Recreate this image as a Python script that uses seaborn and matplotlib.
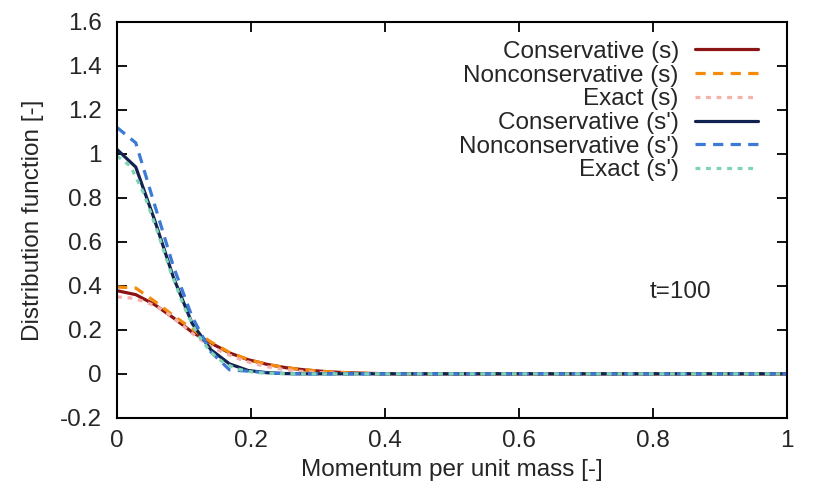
import matplotlib
matplotlib.use("Agg")
import matplotlib.pyplot as plt
import seaborn as sns

# numerical grid (solver output)
x_num = [0, 0.028, 0.056, 0.084, 0.112, 0.14, 0.168, 0.196, 0.224, 0.252, 0.28,
         0.308, 0.336, 0.364, 0.392, 0.42, 0.5, 0.6, 0.7, 0.8, 0.9, 1.0]
cons_s = [0.378, 0.36, 0.315, 0.255, 0.19, 0.14, 0.095, 0.064, 0.043, 0.028, 0.018,
          0.011, 0.006, 0.003, 0.001, 0, 0, 0, 0, 0, 0, 0]
noncons_s = [0.395, 0.39, 0.33, 0.265, 0.205, 0.145, 0.097, 0.065, 0.043, 0.028, 0.018,
             0.011, 0.006, 0.003, 0.001, 0, 0, 0, 0, 0, 0, 0]
cons_sp = [1.02, 0.94, 0.70, 0.44, 0.23, 0.11, 0.045, 0.015, 0.005, 0.001, 0,
           0, 0, 0, 0, 0, 0, 0, 0, 0, 0, 0]
noncons_sp = [1.12, 1.05, 0.77, 0.49, 0.26, 0.10, 0.018, 0.012, 0.005, 0.001, 0,
              0, 0, 0, 0, 0, 0, 0, 0, 0, 0, 0]

# exact solutions
x_ex = [0, 0.02, 0.04, 0.06, 0.08, 0.10, 0.12, 0.14, 0.16, 0.18, 0.20, 0.22,
        0.24, 0.26, 0.28, 0.30, 0.34, 0.40, 0.5, 0.6, 0.7, 0.8, 0.9, 1.0]
exact_s = [0.35, 0.345, 0.33, 0.305, 0.265, 0.215, 0.165, 0.125, 0.095, 0.07, 0.05,
           0.035, 0.024, 0.016, 0.01, 0.006, 0.002, 0, 0, 0, 0, 0, 0, 0]
exact_sp = [0.99, 0.945, 0.82, 0.65, 0.465, 0.305, 0.18, 0.098, 0.048, 0.022, 0.009,
            0.003, 0.001, 0.0003, 0, 0, 0, 0, 0, 0, 0, 0, 0, 0]

x_ticks = [0, 0.2, 0.4, 0.6, 0.8, 1]
x_labels = ["0", "0.2", "0.4", "0.6", "0.8", "1"]
y_ticks = [-0.2, 0, 0.2, 0.4, 0.6, 0.8, 1, 1.2, 1.4, 1.6]
y_labels = ["-0.2", "0", "0.2", "0.4", "0.6", "0.8", "1", "1.2", "1.4", "1.6"]

sns.set_style("ticks")
plt.rcParams["font.family"] = ["Liberation Sans", "DejaVu Sans"]

fig = plt.figure(figsize=(8.3, 4.98), dpi=100)
ax = fig.add_axes([0.141, 0.161, 0.807, 0.795])

lw = 2.3
dash = (0, (3.2, 2.3))
dot = (0, (1.5, 1.8))
fs = 17.5

sns.lineplot(x=x_num, y=cons_s, ax=ax, color="#8b1414", lw=lw, label="Conservative (s)")
sns.lineplot(x=x_num, y=noncons_s, ax=ax, color="#f58a0b", lw=lw, linestyle=dash,
             label="Nonconservative (s)")
sns.lineplot(x=x_ex, y=exact_s, ax=ax, color="#f5b0a8", lw=lw, linestyle=dot, label="Exact (s)")
sns.lineplot(x=x_num, y=cons_sp, ax=ax, color="#13234f", lw=lw, label="Conservative (s')")
sns.lineplot(x=x_num, y=noncons_sp, ax=ax, color="#3c7ad6", lw=lw, linestyle=dash,
             label="Nonconservative (s')")
sns.lineplot(x=x_ex, y=exact_sp, ax=ax, color="#7fd3b5", lw=lw, linestyle=dot, label="Exact (s')")

ax.set_xlim(0, 1)
ax.set_ylim(-0.2, 1.6)
ax.set_xticks(x_ticks)
ax.set_xticklabels(x_labels)
ax.set_yticks(y_ticks)
ax.set_yticklabels(y_labels)
ax.tick_params(direction="in", length=7, width=1.3, top=True, right=True,
               labelsize=fs, color="black")
ax.tick_params(axis="x", pad=9)
ax.tick_params(axis="y", pad=11)
for s in ax.spines.values():
    s.set_linewidth(1.5)
    s.set_color("black")

ax.set_xlabel("Momentum per unit mass [-]", fontsize=fs, labelpad=5)
ax.set_ylabel("Distribution function [-]", fontsize=fs, labelpad=11)

ax.text(0.795, 0.372, "t=100", fontsize=fs, ha="left", va="center")

ax.legend(loc="upper right", frameon=False, markerfirst=False, fontsize=fs,
          handlelength=2.6, handletextpad=0.65, labelspacing=0.07,
          borderaxespad=0.3, bbox_to_anchor=(0.982, 0.995))

fig.savefig("out.png", dpi=100)
